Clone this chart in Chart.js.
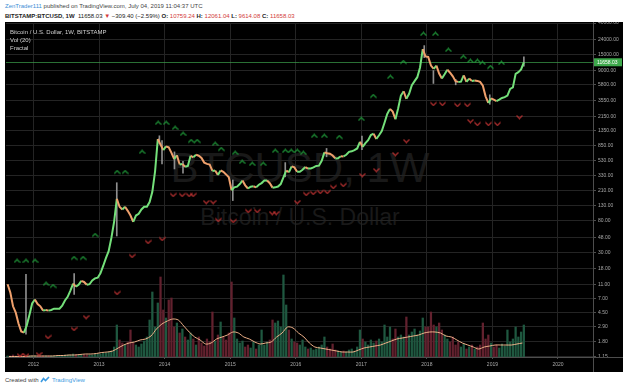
<!DOCTYPE html>
<html><head><meta charset="utf-8">
<script src="https://cdn.jsdelivr.net/npm/chart.js@4.4.1/dist/chart.umd.min.js"></script>
<style>
body{margin:0;width:628px;height:391px;background:#fff;position:relative;overflow:hidden;font-family:"Liberation Sans",Arial,sans-serif;}
.t{position:absolute;white-space:nowrap;line-height:7px;font-size:6px;}
#box{position:absolute;left:5px;top:22px;width:618px;height:350px;background:#000;overflow:hidden}
.wm{position:absolute;left:0;width:590px;text-align:center;color:#191919;white-space:nowrap}
#c{position:absolute;left:0;top:0}
.r{color:#d23a3a}
</style></head><body>
<div class="t" style="left:5px;top:2.5px;color:#444"><span style="color:#3d8fd6">ZenTrader111</span> published on TradingView.com, July 04, 2019 11:04:37 UTC</div>
<div class="t" style="left:5px;top:12.5px;color:#222"><b>BITSTAMP:BTCUSD, 1W</b>&nbsp; 11658.03 <span class="r">▼</span> −309.40 (−2.59%) <b>O:</b> <span class="r">10759.24</span> <b>H:</b> <span class="r">12061.04</span> <b>L:</b> <span class="r">9614.08</span> <b>C:</b> <span class="r">11658.03</span></div>
<div id="box">
  <div class="wm" style="top:125px;font-size:42px;line-height:42px">BTCUSD, 1W</div>
  <div class="wm" style="top:184px;font-size:23px;line-height:23px">Bitcoin / U.S. Dollar</div>
  <canvas id="c" width="618" height="350"></canvas>
  <div class="t" style="left:5px;top:6.5px;color:#d0d0d0">Bitcoin / U.S. Dollar, 1W, BITSTAMP</div>
  <div class="t" style="left:5px;top:14.5px;color:#d0d0d0">Vol (20)</div>
  <div class="t" style="left:5px;top:22.5px;color:#d0d0d0">Fractal</div>
</div>
<div class="t" style="left:5px;top:375.5px;color:#444">Created with <svg width="10" height="7" viewBox="0 0 10 7" style="vertical-align:-1px"><path d="M1 6 L3.5 2.5 L5.5 4.5 L9 1" stroke="#3b9ae1" stroke-width="1.6" fill="none"/></svg> <span style="color:#3b9ae1">TradingView</span></div>
<script>
// ---- axis ticks ----
const priceTicks = [1.15,1.8,2.9,4.5,7,11,18,30,48,80,130,210,330,530,850,1350,2150,3550,5800,9000,15000,24000,40000];
const yearTicks = [2012,2013,2014,2015,2016,2017,2018,2019,2020];

// ---- half-month closes (USD), index 0 = first half of January ----
const first2011Index = 14;
const close2011 = [11.0, 8.5, 5.5, 4.5, 3.2, 2.5, 2.4, 3.0, 4.2, 6.0];
const close2012 = [6.8, 5.9, 5.5, 4.8, 4.9, 4.8, 4.9, 5.1, 5.1, 5.1, 5.6, 6.6, 7.4, 9.0, 11.2, 10.2, 10.8, 12.2, 11.8, 10.8, 11.0, 12.4, 13.2, 13.5];
const close2013 = [15.5, 19.5, 25, 31, 47, 78, 160, 125, 115, 125, 110, 95, 78, 95, 100, 115, 125, 125, 145, 200, 380, 1050, 880, 740];
const close2014 = [830, 810, 680, 560, 630, 470, 480, 440, 450, 620, 590, 640, 620, 580, 500, 480, 470, 385, 390, 340, 390, 375, 345, 315];
const close2015 = [210, 230, 235, 255, 285, 245, 222, 235, 238, 230, 250, 263, 285, 285, 262, 228, 230, 236, 255, 315, 390, 370, 445, 430];
const close2016 = [375, 375, 400, 435, 415, 415, 430, 450, 455, 530, 690, 670, 660, 625, 570, 575, 610, 608, 640, 700, 712, 740, 780, 960];
const close2017 = [820, 920, 1010, 1190, 1240, 1050, 1180, 1350, 1750, 2300, 2700, 2480, 1950, 2750, 4100, 4700, 3700, 4340, 5680, 6450, 7300, 9900, 17600, 14000];
const close2018 = [13800, 10500, 9500, 10500, 8200, 7000, 8000, 9250, 8400, 7500, 6450, 6300, 6350, 7750, 6300, 7000, 6500, 6600, 6500, 6300, 5600, 4000, 3250, 3750];
const close2019 = [3600, 3450, 3600, 3800, 3900, 4100, 5050, 5300, 8100, 8550, 9300, 11658.03];

// ---- notable wicks ----
const wickDate = [2011.885, 2012.62, 2013.27, 2013.92, 2013.96, 2014.15, 2014.28, 2015.04, 2015.84, 2016.47, 2017.01, 2017.96, 2018.10, 2018.44, 2018.96, 2019.48];
const wickLow  = [2.3, 8, 50, 900, 480, 410, 360, 152, 320, 600, 750, 13500, 6000, 5750, 3120, 10300];
const wickHigh = [15, 15.4, 266, 1160, 1000, 700, 520, 290, 500, 780, 1150, 19666, 9000, 6800, 4200, 13880];

// ---- half-month volume (relative units) ----
const vol2011 = [1,1,2,1,1,1,1,1,1,1];
const vol2012 = [1,1,1,1,1,1,1,1,1,1,1,2,2,2,3,2,2,2,2,2,2,2,3,3];
const vol2013 = [3,4,4,5,6,10,32,17,14,12,15,27,14,12,10,13,16,20,37,65,30,54,80,47];
const vol2014 = [39,57,59,30,34,24,28,20,17,24,18,12,20,14,11,18,15,45,16,22,35,20,17,24];
const vol2015 = [75,39,18,14,16,10,12,9,15,8,12,27,12,15,17,37,34,36,30,82,52,27,18,15];
const vol2016 = [14,12,17,10,8,9,7,8,10,12,20,10,8,13,7,6,5,6,5,7,8,6,10,27];
const vol2017 = [18,15,12,17,14,16,18,15,32,20,30,18,28,20,22,20,40,22,25,28,22,26,39,30];
const vol2018 = [30,45,32,30,34,27,22,18,15,20,12,15,10,13,8,10,12,8,10,12,34,18,22,14];
const vol2019 = [10,12,9,13,11,27,15,18,30,20,25,32];

// ---- monthly volume MA(20) ----
const first2011Month = 7;
const ma2011 = [0.5,0.5,0.5,0.5,1];
const ma2012 = [1,1,1,1,1.5,1.5,2,2,2.5,3,3,3.5];
const ma2013 = [4.5,5,6,9,12,14,15,17,18,21,28,33];
const ma2014 = [36,38,37,31,25,20,17,13,14,18,20,22];
const ma2015 = [25,24,20,18,15,13,14,15,20,24,30,29];
const ma2016 = [24,20,14,10,9,8,7,6,5,5,5,7];
const ma2017 = [9,10,11,12,14,16,18,19,20,21,22,24];
const ma2018 = [25,25,24,21,20,17,14,12,10,8,10,11];
const ma2019 = [12,12,12,12,13,14];

// ---- Williams fractals ----
const fractalUpDate = [2011.748,2011.885,2012.023,2012.191,2012.298,2012.618,2012.756,2012.939,2013.275,2013.397,2013.656,2013.901,2014.023,2014.160,2014.282,2014.405,2014.496,2014.771,2014.863,2015.076,2015.183,2015.336,2015.504,2015.687,2015.840,2015.931,2016.023,2016.115,2016.282,2016.435,2016.664,2017.000,2017.183,2017.443,2017.641,2017.947,2018.130,2018.328,2018.557,2018.664,2018.771,2018.847,2018.969,2019.137];
const fractalUpLevel = [22.8,22.8,22.8,11.1,10.4,25,25,51.5,372,372,698,1734,1734,1482,1228,985,985,897,766,677,510,479,479,720,720,720,720,677,1154,1154,1117,1966,4045,7347,11760,28340,28340,17150,13760,12140,12140,11400,10050,11400];
const fractalDownDate = [2011.794,2011.885,2012.084,2012.221,2012.618,2012.802,2013.275,2013.504,2013.748,2013.962,2014.130,2014.267,2014.374,2014.435,2014.634,2014.740,2014.817,2015.046,2015.275,2015.412,2015.641,2015.702,2016.023,2016.160,2016.267,2016.374,2016.481,2016.573,2016.725,2017.015,2017.229,2017.519,2017.687,2018.099,2018.237,2018.466,2018.618,2018.664,2018.771,2018.939,2019.076,2019.412];
const fractalDownLevel = [1.19,1.19,1.23,2.10,2.70,3.93,8.35,26.7,41.4,45.5,181,181,181,181,145,145,82.6,80.0,109.5,109.5,102.8,102.8,145,186.7,192.7,198.8,198.8,232.6,247.7,338.8,396.5,655,985,3148,3148,3053,3053,1845,1680,1680,1680,2092];

// ---- build points ----
const closeYears = [2011,2012,2013,2014,2015,2016,2017,2018,2019];
const closeSeries = [close2011,close2012,close2013,close2014,close2015,close2016,close2017,close2018,close2019];
const volSeries = [vol2011,vol2012,vol2013,vol2014,vol2015,vol2016,vol2017,vol2018,vol2019];
const maSeries = [ma2011,ma2012,ma2013,ma2014,ma2015,ma2016,ma2017,ma2018,ma2019];

const pricePts = [], volPts = [], volColors = [], maPts = [];
closeYears.forEach((yr, k) => {
  const off = yr === 2011 ? first2011Index : 0;
  closeSeries[k].forEach((c, i) => pricePts.push({x: yr + (i + off + 0.5) / 24, y: c}));
  volSeries[k].forEach((v, i) => volPts.push({x: yr + (i + off + 0.5) / 24, y: v}));
  const moff = yr === 2011 ? first2011Month : 0;
  maSeries[k].forEach((v, i) => maPts.push({x: yr + (i + moff + 0.5) / 12, y: v}));
});
pricePts.forEach((p, i) => {
  const up = i === 0 ? true : p.y >= pricePts[i - 1].y;
  volColors.push(up ? '#1f5840' : '#62212e');
});
const wickPts = wickDate.map((d, i) => ({x: d, y: [wickLow[i], wickHigh[i]]}));
const upPts = fractalUpDate.map((d, i) => ({x: d, y: fractalUpLevel[i]}));
const downPts = fractalDownDate.map((d, i) => ({x: d, y: fractalDownLevel[i]}));
const lastClose = close2019[close2019.length - 1];

function chevron(color, up) {
  const c = document.createElement('canvas'); c.width = 7; c.height = 5;
  const g = c.getContext('2d'); g.strokeStyle = color; g.lineWidth = 1.1; g.beginPath();
  if (up) { g.moveTo(0.5, 4.2); g.lineTo(3.5, 1); g.lineTo(6.5, 4.2); }
  else { g.moveTo(0.5, 0.8); g.lineTo(3.5, 4); g.lineTo(6.5, 0.8); }
  g.stroke(); return c;
}
const upMark = chevron('#22a33d', true), downMark = chevron('#c73535', false);

const UP = '#74e07a', DOWN = '#efa06c';
const frame = {
  id: 'frame',
  beforeDatasetsDraw(ch) {
    const a = ch.chartArea, g = ch.ctx, py = ch.scales.y.getPixelForValue(lastClose);
    g.save(); g.strokeStyle = 'rgba(60,160,75,0.7)'; g.lineWidth = 1;
    g.beginPath(); g.moveTo(a.left, Math.round(py) + 0.5); g.lineTo(a.right, Math.round(py) + 0.5); g.stroke(); g.restore();
  },
  afterDraw(ch) {
    const a = ch.chartArea, g = ch.ctx, W = ch.width, H = ch.height;
    g.save(); g.strokeStyle = '#4d4d4d'; g.lineWidth = 1;
    g.beginPath(); g.moveTo(a.right + 0.5, 0); g.lineTo(a.right + 0.5, H);
    g.moveTo(0, a.bottom + 0.5); g.lineTo(W, a.bottom + 0.5); g.stroke();
    const py = ch.scales.y.getPixelForValue(lastClose);
    g.fillStyle = '#3ea94c'; g.fillRect(a.right + 1, py - 4, W - a.right - 2, 8);
    g.fillStyle = '#ffffff'; g.font = '5px "Liberation Sans", Arial'; g.textBaseline = 'middle';
    g.fillText(lastClose.toFixed(2), a.right + 4, py + 0.3);
    g.restore();
  }
};

new Chart(document.getElementById('c'), {
  data: {
    datasets: [
      {type: 'line', data: upPts, showLine: false, pointStyle: upMark, pointRadius: 3, order: 1, yAxisID: 'y'},
      {type: 'line', data: downPts, showLine: false, pointStyle: downMark, pointRadius: 3, order: 1, yAxisID: 'y'},
      {type: 'line', data: pricePts, yAxisID: 'y', borderWidth: 2, pointRadius: 0, tension: 0, order: 2,
        borderColor: UP, segment: {borderColor: c => c.p1.parsed.y >= c.p0.parsed.y ? UP : DOWN}},
      {type: 'bar', data: wickPts, yAxisID: 'y', backgroundColor: '#8e8e8e', barThickness: 1, grouped: false, order: 3},
      {type: 'line', data: maPts, yAxisID: 'yVol', borderColor: '#eeb088', borderWidth: 1, pointRadius: 0, tension: 0.3, order: 4},
      {type: 'bar', data: volPts, yAxisID: 'yVol', backgroundColor: volColors, barThickness: 1.6, grouped: false, order: 5}
    ]
  },
  options: {
    responsive: false, animation: false, devicePixelRatio: 1,
    layout: {padding: {left: 1, top: 1, right: 0, bottom: 0}, autoPadding: false},
    plugins: {legend: {display: false}, tooltip: {enabled: false}},
    scales: {
      x: {
        type: 'linear', min: 2011.5802, max: 2020.5344, offset: false,
        afterBuildTicks: s => { s.ticks = yearTicks.map(v => ({value: v})); },
        afterFit: s => { s.height = 15; s.paddingLeft = 0; s.paddingRight = 0; },
        ticks: {callback: v => String(v), color: '#a8a8a8', font: {size: 5, family: '"Liberation Sans", Arial'}, padding: 3, maxRotation: 0, autoSkip: false},
        grid: {color: '#242424', tickLength: 2, tickColor: '#4d4d4d', offset: false},
        border: {display: false}
      },
      y: {
        type: 'logarithmic', position: 'right', min: 1.12, max: 40000,
        afterBuildTicks: s => { s.ticks = priceTicks.map(v => ({value: v})); },
        afterFit: s => { s.width = 30; s.paddingTop = 0; s.paddingBottom = 0; },
        ticks: {callback: v => Number(v).toFixed(2), color: '#a8a8a8', font: {size: 5, family: '"Liberation Sans", Arial'}, padding: 2, autoSkip: false},
        grid: {color: '#242424', tickLength: 3, tickColor: '#4d4d4d'},
        border: {display: false}
      },
      yVol: {type: 'linear', display: false, min: 0, max: 334}
    }
  },
  plugins: [frame]
});
</script>
</body></html>
